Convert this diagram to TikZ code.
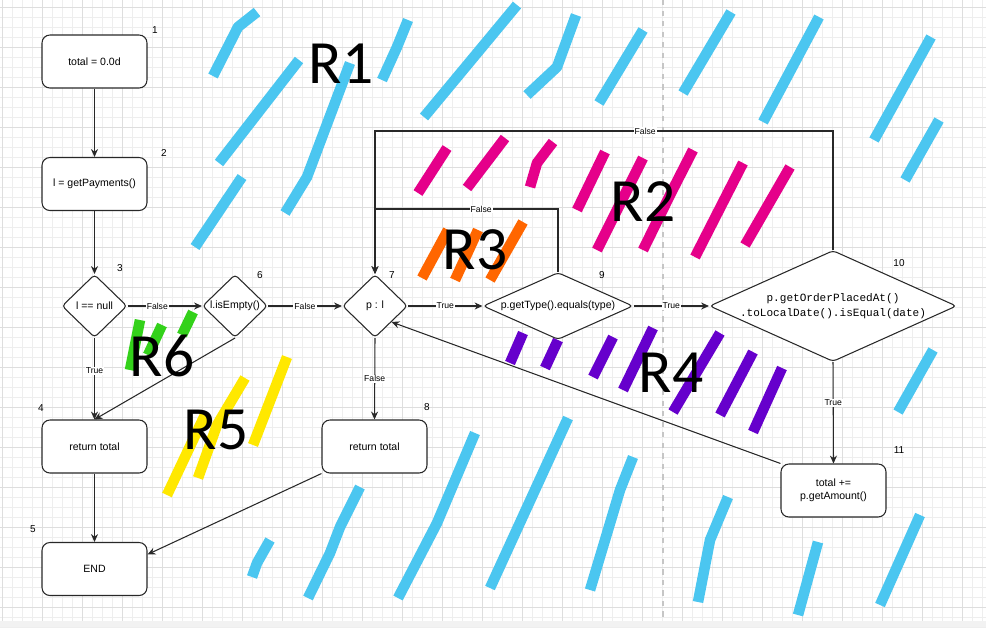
\documentclass[tikz,border=0pt]{standalone}
\usepackage{fontspec}
\setmainfont{Liberation Sans}
\newfontfamily\monof{Liberation Mono}
\newfontfamily\rfont{Carlito}
\usetikzlibrary{shapes.geometric,arrows.meta,calc}
\definecolor{sblue}{RGB}{75,198,240}
\definecolor{spink}{RGB}{229,0,138}
\definecolor{sorange}{RGB}{255,102,0}
\definecolor{spurple}{RGB}{102,0,204}
\definecolor{syellow}{RGB}{255,232,0}
\definecolor{sgreen}{RGB}{51,209,26}
\definecolor{gridc}{RGB}{238,238,238}
\definecolor{gridm}{RGB}{222,222,222}
\definecolor{edgec}{RGB}{40,40,40}
\begin{document}
\begin{tikzpicture}[x=0.02cm,y=-0.02cm,
  box/.style={draw=edgec, rounded corners=4.5pt, fill=white, minimum width=2.1cm, minimum height=1.06cm, line width=0.6pt, font=\fontsize{6}{7.2}\selectfont, align=center, inner sep=1pt},
  dia/.style={draw=edgec, diamond, fill=white, inner sep=0pt, rounded corners=2pt, line width=0.6pt, font=\fontsize{6}{7.2}\selectfont, align=center},
  num/.style={font=\fontsize{5.7}{7}\selectfont, inner sep=0pt},
  lbl/.style={fill=white, inner sep=0.6pt, font=\fontsize{4.9}{5.5}\selectfont},
  arr/.style={draw=edgec, line width=0.6pt, -{Stealth[length=4.5pt,width=4pt]}},
  rlab/.style={font=\rfont\fontsize{35}{40}\selectfont, inner sep=0pt},
  stroke/.style={line width=6pt, line cap=butt, line join=round}
]
\useasboundingbox (0,0) rectangle (986,627);
\fill[white] (0,0) rectangle (986,627);
% grid
\foreach \x in {2,12,...,982} \draw[gridc, line width=0.35pt] (\x,0) -- (\x,627);
\foreach \y in {7,17,...,627} \draw[gridc, line width=0.35pt] (0,\y) -- (986,\y);
\foreach \x in {2,42,...,982} \draw[gridm, line width=0.35pt] (\x,0) -- (\x,627);
\foreach \y in {7,47,...,627} \draw[gridm, line width=0.35pt] (0,\y) -- (986,\y);
\fill[gray!10] (0,621) rectangle (986,627);
\draw[gray!45, dashed, line width=0.6pt] (663,0) -- (663,621);

% blue strokes (R1)
\begin{scope}[stroke, draw=sblue]
\draw (213,76) -- (238,27) -- (257,12);
\draw (219,163) -- (299,60);
\draw (195,247) -- (242,177);
\draw (285,213) -- (307,177) -- (350,63);
\draw (382,80) -- (397,47) -- (408,20);
\draw (424,117) -- (517,5);
\draw (527,95) -- (557,67) -- (576,15);
\draw (599,103) -- (643,30);
\draw (683,93) -- (731,12);
\draw (763,122) -- (819,17);
\draw (874,140) -- (931,37);
\draw (905,180) -- (939,120);
\draw (252,577) -- (257,563) -- (270,540);
\draw (308,598) -- (330,553) -- (340,527) -- (360,487);
\draw (398,598) -- (437,523) -- (475,433);
\draw (490,588) -- (568,418);
\draw (590,590) -- (620,490) -- (633,457);
\draw (698,602) -- (710,540) -- (728,497);
\draw (798,615) -- (818,542);
\draw (880,605) -- (920,515);
\draw (898,412) -- (933,350);
\end{scope}
% pink strokes (R2)
\begin{scope}[stroke, draw=spink]
\draw (418,193) -- (447,148);
\draw (467,188) -- (505,138);
\draw (530,187) -- (537,163) -- (553,142);
\draw (577,210) -- (605,152);
\draw (597,250) -- (643,158);
\draw (643,250) -- (670,195) -- (693,150);
\draw (695,257) -- (743,163);
\draw (745,245) -- (790,167);
\end{scope}
% orange strokes (R3)
\begin{scope}[stroke, draw=sorange]
\draw (422,278) -- (448,230);
\draw (455,280) -- (478,230);
\draw (490,280) -- (523,222);
\end{scope}
% purple strokes (R4)
\begin{scope}[stroke, draw=spurple]
\draw (510,363) -- (523,333);
\draw (545,368) -- (558,340);
\draw (593,377) -- (613,337);
\draw (623,390) -- (653,328);
\draw (673,412) -- (720,333);
\draw (720,415) -- (753,352);
\draw (753,432) -- (782,368);
\end{scope}
% yellow strokes (R5)
\begin{scope}[stroke, draw=syellow]
\draw (167,495) -- (193,440) -- (205,415);
\draw (198,478) -- (217,425) -- (245,378);
\draw (253,445) -- (287,357);
\end{scope}
% green strokes (R6)
\begin{scope}[stroke, draw=sgreen]
\draw (130,370) -- (140,320);
\draw (148,355) -- (162,325);
\draw (182,335) -- (193,312);
\end{scope}

% nodes
\node[box] (n1) at (94.5,61.5) {total = 0.0d};
\node[box] (n2) at (94.5,184) {l = getPayments()};
\node[dia, minimum width=1.3cm, minimum height=1.26cm] (n3) at (94.5,306) {l == null};
\node[dia, minimum width=1.3cm, minimum height=1.26cm] (n6) at (235,306) {l.isEmpty()};
\node[dia, minimum width=1.3cm, minimum height=1.26cm] (n7) at (375,306) {p : l};
\node[dia, minimum width=3cm, minimum height=1.34cm, shape aspect=2.2] (n9) at (558,306) {p.getType().equals(type)};
\node[dia, minimum width=4.94cm, minimum height=2.22cm, shape aspect=2.2, font=\monof\fontsize{6.3}{8.4}\selectfont] (n10) at (833,306) {p.getOrderPlacedAt()\\.toLocalDate().isEqual(date)};
\node[box] (n11) at (833.5,490.5) {total +=\\p.getAmount()};
\node[box] (n4) at (94.5,446.5) {return total};
\node[box] (n8) at (374.5,446.5) {return total};
\node[box] (n5) at (94.5,569) {END};

% number labels
\node[num] (k1) at (155,30) {1};
\node[num] (k2) at (164,153) {2};
\node[num] (k3) at (120,268) {3};
\node[num] (k4) at (41,408) {4};
\node[num] (k5) at (33,529) {5};
\node[num] (k6) at (260,275) {6};
\node[num] (k7) at (392,275) {7};
\node[num] (k8) at (427,407) {8};
\node[num] (k9) at (602,275) {9};
\node[num] (k10) at (899,263) {10};
\node[num] (k11) at (899,450) {11};

% connectors
\draw[arr] (n1) -- (n2);
\draw[arr] (n2) -- (n3);
\draw[arr] (n3.south) -- node[lbl, pos=0.4] {True} (n4.north);
\draw[arr] (n3.east) -- node[lbl, pos=0.4] {False} (n6.west);
\draw[arr] (n6.south) -- (n4.north);
\draw[arr] (n6.east) -- node[lbl] {False} (n7.west);
\draw[arr] (n7.east) -- node[lbl] {True} (n9.west);
\draw[arr] (n9.east) -- node[lbl] {True} (n10.west);
\draw[arr] (n7.south) -- node[lbl] {False} (n8.north);
\draw[arr] (n10.south) -- node[lbl, pos=0.4] {True} (n11.north);
\draw[arr] (n9.north) -- ++(0,-63) -| node[lbl, pos=0.21] {False} (n7.north);
\draw[arr] (n10.north) -- ++(0,-119) -| node[lbl, pos=0.205] {False} (n7.north);
\draw[arr] (n11.north west) -- (n7.south east);
\draw[arr] (n4) -- (n5);
\draw[arr] (n8.south west) -- ($(n5.north east)!0.23!(n5.south east)$);

% region labels
\node[rlab] (r1) at (341,64) {R1};
\node[rlab] (r2) at (643,202) {R2};
\node[rlab] (r3) at (475,250) {R3};
\node[rlab] (r4) at (671,373) {R4};
\node[rlab] (r5) at (216,430) {R5};
\node[rlab] (r6) at (162,356) {R6};
\end{tikzpicture}
\end{document}
